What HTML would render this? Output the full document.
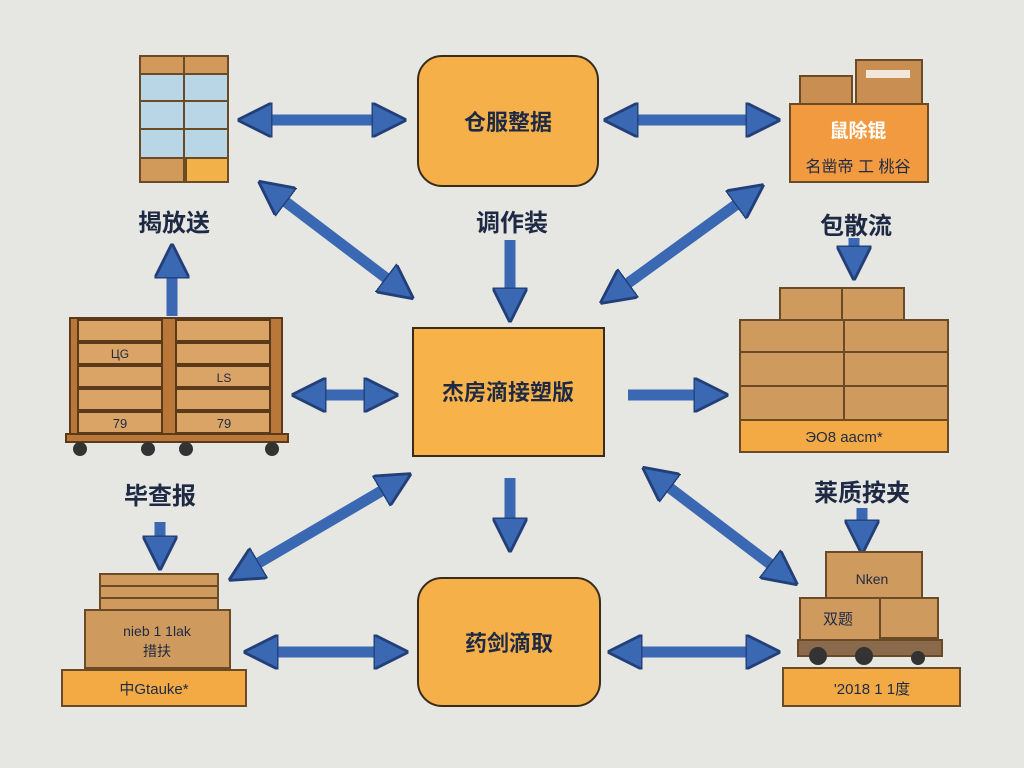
<!DOCTYPE html>
<html><head><meta charset="utf-8"><style>
html,body{margin:0;padding:0;background:#e6e6e2;}
svg{display:block}
text{font-family:"Liberation Sans","Noto Sans CJK SC",sans-serif;fill:#1e2a44;}
.b{font-weight:bold}
</style></head><body>
<svg width="1024" height="768" viewBox="0 0 1024 768" xmlns="http://www.w3.org/2000/svg">
<defs>
<marker id="h" viewBox="0 0 10 10" refX="3" refY="5" markerWidth="3.2" markerHeight="3.2" orient="auto-start-reverse" markerUnits="strokeWidth">
<path d="M0,0 L10,5 L0,10 z" fill="#3a68b2" stroke="#223f77" stroke-width="0.8"/>
</marker>
</defs>
<rect width="1024" height="768" fill="#e6e6e2"/>
<g stroke="#3a68b2" stroke-width="11" fill="none">
<line x1="262" y1="120" x2="382" y2="120" marker-start="url(#h)" marker-end="url(#h)"/>
<line x1="628" y1="120" x2="756" y2="120" marker-start="url(#h)" marker-end="url(#h)"/>
<line x1="316" y1="395" x2="374" y2="395" marker-start="url(#h)" marker-end="url(#h)"/>
<line x1="268" y1="652" x2="384" y2="652" marker-start="url(#h)" marker-end="url(#h)"/>
<line x1="632" y1="652" x2="756" y2="652" marker-start="url(#h)" marker-end="url(#h)"/>
<line x1="278" y1="196" x2="394" y2="284" marker-start="url(#h)" marker-end="url(#h)"/>
<line x1="744" y1="199" x2="620" y2="289" marker-start="url(#h)" marker-end="url(#h)"/>
<line x1="390" y1="486" x2="250" y2="568" marker-start="url(#h)" marker-end="url(#h)"/>
<line x1="662" y1="482" x2="778" y2="570" marker-start="url(#h)" marker-end="url(#h)"/>
<line x1="510" y1="240" x2="510" y2="298" marker-end="url(#h)"/>
<line x1="172" y1="316" x2="172" y2="268" marker-end="url(#h)"/>
<line x1="628" y1="395" x2="704" y2="395" marker-end="url(#h)"/>
<line x1="510" y1="478" x2="510" y2="528" marker-end="url(#h)"/>
<line x1="854" y1="238" x2="854" y2="256" marker-end="url(#h)"/>
<line x1="160" y1="522" x2="160" y2="546" marker-end="url(#h)"/>
<line x1="862" y1="508" x2="862" y2="530" marker-end="url(#h)"/>
</g>
<rect x="418" y="56" width="180" height="130" rx="24" fill="#f6b04a" stroke="#3a2c1a" stroke-width="2"/>
<text x="508" y="130" font-size="22" text-anchor="middle" class="b">仓服整据</text>
<rect x="413" y="328" width="191" height="128" fill="#f7b24a" stroke="#3a2c1a" stroke-width="2"/>
<text x="508" y="400" font-size="22" text-anchor="middle" class="b">杰房滴接塑版</text>
<rect x="418" y="578" width="182" height="128" rx="24" fill="#f6b04a" stroke="#3a2c1a" stroke-width="2"/>
<text x="509" y="651" font-size="22" text-anchor="middle" class="b">药剑滴取</text>
<text x="174" y="231" font-size="24" text-anchor="middle" class="b">揭放送</text>
<text x="512" y="231" font-size="24" text-anchor="middle" class="b">调作装</text>
<text x="856" y="234" font-size="24" text-anchor="middle" class="b">包散流</text>
<text x="160" y="504" font-size="24" text-anchor="middle" class="b">毕查报</text>
<text x="862" y="501" font-size="24" text-anchor="middle" class="b">莱质按夹</text>
<g stroke="#6b4a26" stroke-width="2">
<rect x="140" y="56" width="88" height="126" fill="#b8d6e6"/>
<rect x="140" y="56" width="88" height="18" fill="#d19a5a"/>
<rect x="140" y="158" width="88" height="24" fill="#d19a5a"/>
<rect x="186" y="158" width="42" height="24" fill="#f3b14a"/>
<line x1="184" y1="56" x2="184" y2="182"/>
<line x1="140" y1="101" x2="228" y2="101"/>
<line x1="140" y1="129" x2="228" y2="129"/>
</g>
<rect x="800" y="76" width="52" height="28" fill="#c98f52" stroke="#6b4a26" stroke-width="2"/>
<rect x="856" y="60" width="66" height="44" fill="#c98f52" stroke="#6b4a26" stroke-width="2"/>
<rect x="866" y="70" width="44" height="8" fill="#f1e8dc"/>
<rect x="790" y="104" width="138" height="78" fill="#f29a40" stroke="#6b4a26" stroke-width="2"/>
<text x="858" y="137" font-size="19" text-anchor="middle" style="fill:#fff" class="b">鼠除锟</text>
<text x="858" y="172" font-size="16" text-anchor="middle">名凿帝 工 桃谷</text>
<g stroke="#5a3a1a" stroke-width="2" fill="#d9a466">
<rect x="70" y="318" width="212" height="118" fill="#b9783a"/>
<rect x="78" y="320" width="84" height="21"/><rect x="176" y="320" width="94" height="21"/>
<rect x="78" y="343" width="84" height="21"/><rect x="176" y="343" width="94" height="21"/>
<rect x="78" y="366" width="84" height="21"/><rect x="176" y="366" width="94" height="21"/>
<rect x="78" y="389" width="84" height="21"/><rect x="176" y="389" width="94" height="21"/>
<rect x="78" y="412" width="84" height="21"/><rect x="176" y="412" width="94" height="21"/>
<rect x="66" y="434" width="222" height="8" fill="#b9783a"/>
</g>
<text x="120" y="428" font-size="13" text-anchor="middle">79</text>
<text x="224" y="428" font-size="13" text-anchor="middle">79</text>
<text x="120" y="358" font-size="12" text-anchor="middle">ЦG</text>
<text x="224" y="382" font-size="12" text-anchor="middle">LS</text>
<g fill="#333"><circle cx="80" cy="449" r="7"/><circle cx="148" cy="449" r="7"/><circle cx="186" cy="449" r="7"/><circle cx="272" cy="449" r="7"/></g>
<g stroke="#6b4a26" stroke-width="2" fill="#cf9a5e">
<rect x="780" y="288" width="124" height="32"/>
<line x1="842" y1="288" x2="842" y2="320"/>
<rect x="740" y="320" width="104" height="32"/><rect x="844" y="320" width="104" height="32"/>
<rect x="740" y="352" width="104" height="34"/><rect x="844" y="352" width="104" height="34"/>
<rect x="740" y="386" width="104" height="34"/><rect x="844" y="386" width="104" height="34"/>
<rect x="740" y="420" width="208" height="32" fill="#f3aa44"/>
</g>
<text x="844" y="442" font-size="15" text-anchor="middle">ЭО8 aacm*</text>
<g stroke="#6b4a26" stroke-width="2" fill="#cf9a5e">
<rect x="100" y="574" width="118" height="12"/><rect x="100" y="586" width="118" height="12"/><rect x="100" y="598" width="118" height="12"/>
<rect x="85" y="610" width="145" height="58"/>
<rect x="62" y="670" width="184" height="36" fill="#f3aa44"/>
</g>
<text x="157" y="636" font-size="14" text-anchor="middle">nieb 1 1lak</text>
<text x="157" y="656" font-size="14" text-anchor="middle">措扶</text>
<text x="154" y="694" font-size="15" text-anchor="middle">中Gtauke*</text>
<g stroke="#6b4a26" stroke-width="2" fill="#cf9a5e">
<rect x="826" y="552" width="96" height="46"/>
<rect x="800" y="598" width="80" height="44"/>
<rect x="880" y="598" width="58" height="40"/>
<rect x="798" y="640" width="144" height="16" fill="#8a6a4a"/>
<rect x="783" y="668" width="177" height="38" fill="#f3aa44"/>
</g>
<text x="872" y="584" font-size="14" text-anchor="middle">Nken</text>
<text x="838" y="624" font-size="15" text-anchor="middle">双题</text>
<text x="872" y="694" font-size="15" text-anchor="middle">'2018 1 1度</text>
<g fill="#333"><circle cx="818" cy="656" r="9"/><circle cx="864" cy="656" r="9"/><circle cx="918" cy="658" r="7"/></g>
</svg>
</body></html>
